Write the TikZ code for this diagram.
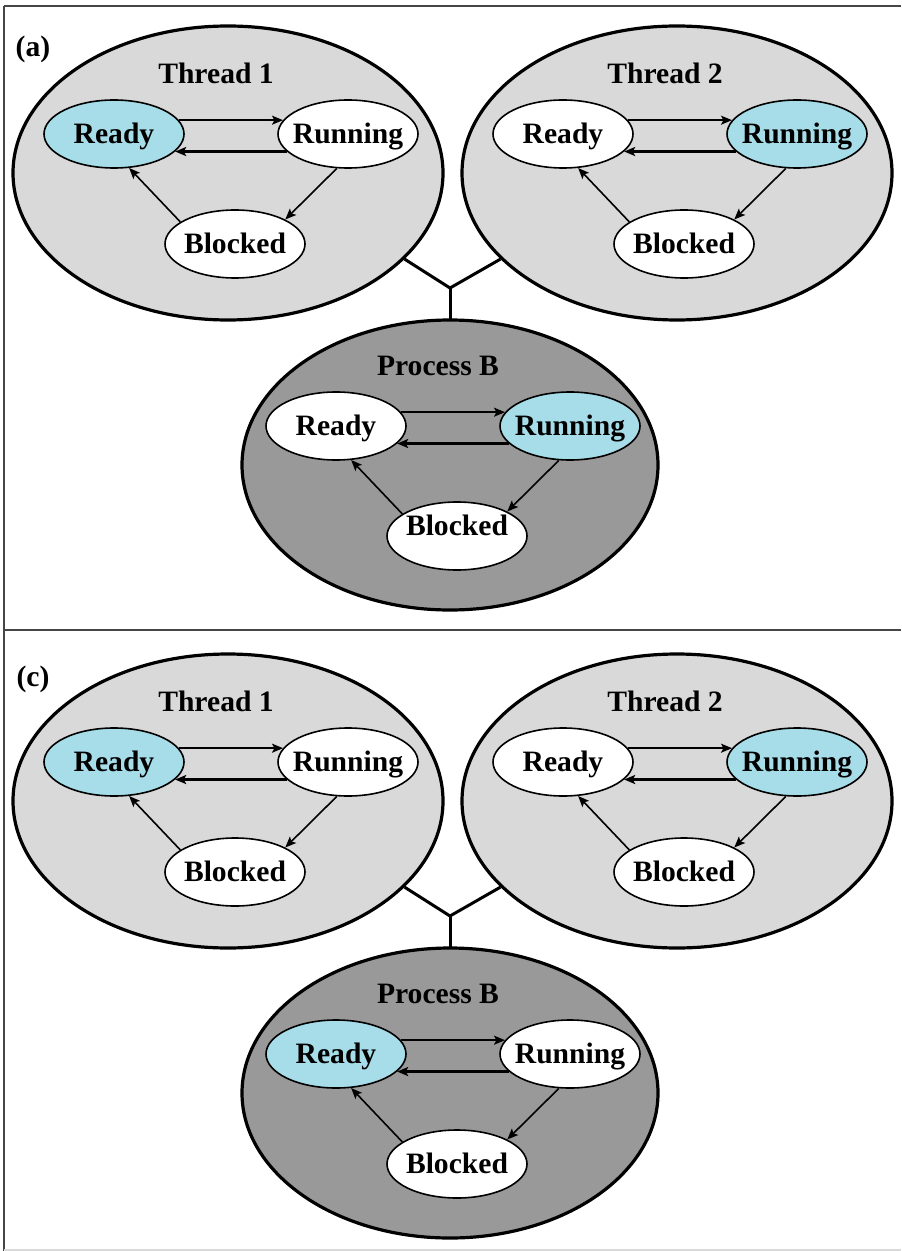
\documentclass[tikz,border=0pt]{standalone}
\usepackage{fontspec}
\setmainfont{Liberation Serif}
\usetikzlibrary{shapes.geometric,arrows.meta}

\definecolor{threadgray}{RGB}{217,217,217}
\definecolor{procgray}{RGB}{153,153,153}
\definecolor{activecyan}{RGB}{166,221,233}
\definecolor{framegray}{RGB}{70,70,70}

\tikzset{
  txt/.style={font=\bfseries\fontsize{14.8}{16}\selectfont, inner sep=0pt,
              text height=9.6pt, text depth=0pt},
  threadbox/.style={ellipse, draw=black, line width=1.6pt, fill=threadgray,
              inner sep=0pt, minimum width=215pt, minimum height=147pt},
  procbox/.style={ellipse, draw=black, line width=1.6pt, fill=procgray,
              inner sep=0pt, minimum width=208pt, minimum height=145pt},
  state/.style={ellipse, draw=black, line width=0.8pt, fill=white,
              inner sep=0pt, minimum width=70pt, minimum height=34pt},
  active/.style={fill=activecyan},
  trans/.style={line width=0.8pt, -{Stealth[length=5.5pt,width=4.5pt,inset=1.2pt]}},
  transback/.style={trans, line width=1.2pt},
  link/.style={line width=1.5pt},
  frameline/.style={line width=1pt, draw=framegray},
}

% One thread/process: outer ellipse, title and its three-state diagram.
% #1 name, #2 centre, #3 outer style, #4 title,
% #5 Ready style, #6 Running style, #7 Blocked text shift
\newcommand\statecluster[7]{%
  \begin{scope}[shift={#2}]
    \node[#3] (#1) at (0,0) {};
    \node[txt] (#1t) at (-12,-99) {#4};
    \node[state,#5,label={[txt,name=#1rl]center:Ready}] (#1r) at (-114,-39) {};
    \node[state,#6,label={[txt,name=#1ul]center:Running}] (#1u) at (120,-39) {};
    \node[state,label={[txt,name=#1bl,yshift=#7]center:Blocked}] (#1b) at (7,71) {};
    \draw[trans] (#1r.12) -- (#1u.168);
    \draw[transback] (#1u.196) -- (#1r.344);
    \draw[trans] (#1u.252) -- (#1b.26);
    \draw[trans] (#1b.158) -- (#1r.294);
  \end{scope}}

\begin{document}
\begin{tikzpicture}[x=0.5pt,y=-0.5pt]
  \useasboundingbox (0,0) rectangle (901,1251);
  \fill[white] (0,0) rectangle (901,1251);

  % panel frame
  \draw[frameline] (4,6) -- (901,6);
  \draw[frameline] (4,6) -- (4,1251);
  \draw[frameline] (4,630) -- (901,630);
  \draw[line width=1pt, draw=black!15] (4,1250) -- (901,1250);

  % ---------- (a) ----------
  \node[txt, anchor=center] (lbla) at (33,47) {(a)};
  \coordinate (ja) at (450,288);
  \statecluster{ta}{(228,173)}{threadbox}{Thread 1}{active}{}{0pt}
  \statecluster{tb}{(677,173)}{threadbox}{Thread 2}{}{active}{0pt}
  \draw[link] (ta.334) -- (ja) -- (tb.206);
  \draw[link] (ja) -- (450,322) coordinate (pa-top);
  \statecluster{pa}{(450,465)}{procbox}{Process B}{}{active}{5pt}

  % ---------- (c) ----------
  \node[txt, anchor=center] (lblc) at (33,677) {(c)};
  \coordinate (jc) at (450,916);
  \statecluster{tc}{(228,801)}{threadbox}{Thread 1}{active}{}{0pt}
  \statecluster{td}{(677,801)}{threadbox}{Thread 2}{}{active}{0pt}
  \draw[link] (tc.334) -- (jc) -- (td.206);
  \draw[link] (jc) -- (450,950);
  \statecluster{pc}{(450,1093)}{procbox}{Process B}{active}{}{0pt}
\end{tikzpicture}
\end{document}
